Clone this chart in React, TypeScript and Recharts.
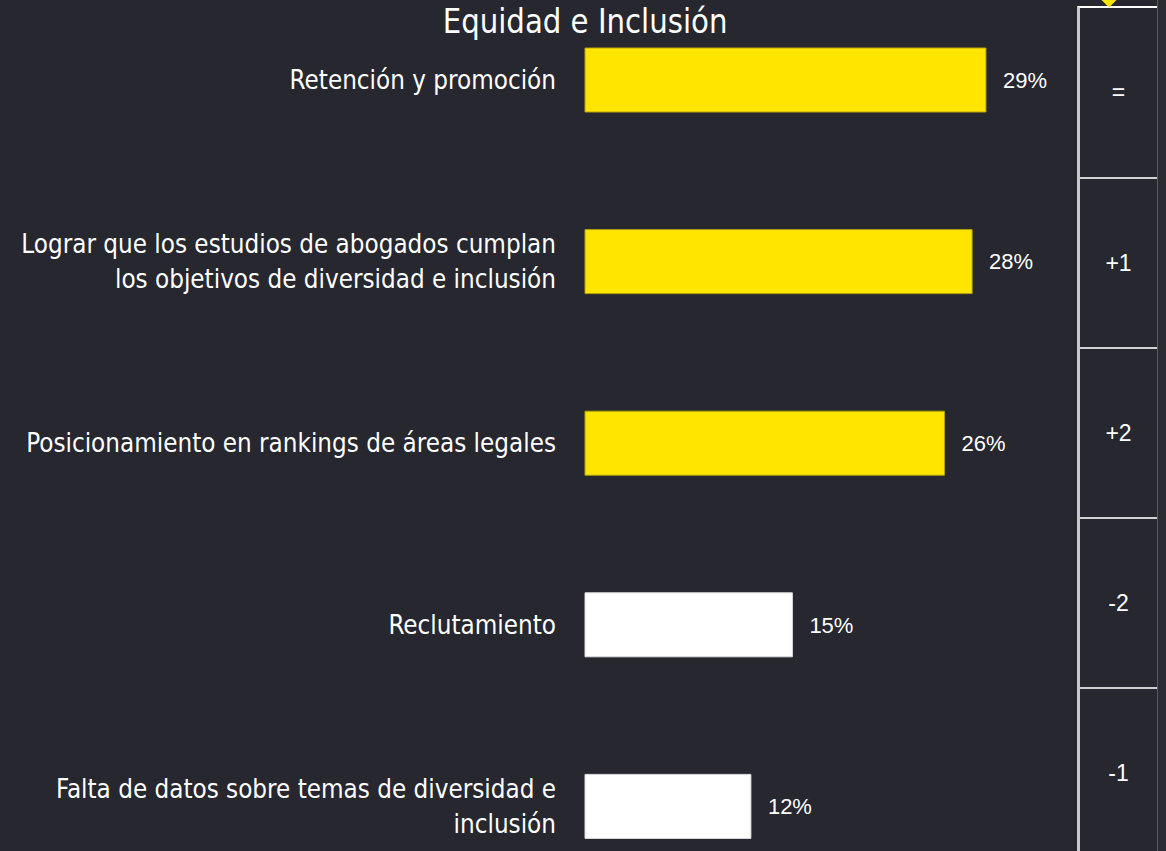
import { BarChart, Bar, XAxis, YAxis, Cell, LabelList } from 'recharts';

const categories = [
  'Retención y promoción',
  'Lograr que los estudios de abogados cumplan\nlos objetivos de diversidad e inclusión',
  'Posicionamiento en rankings de áreas legales',
  'Reclutamiento',
  'Falta de datos sobre temas de diversidad e\ninclusión',
];
const values = [29, 28, 26, 15, 12];
const changes = ['=', '+1', '+2', '-2', '-1'];
const highlighted = [true, true, true, false, false];

const data = categories.map((name, i) => ({ name, value: values[i] }));

const FONT = '"DejaVu Sans Condensed", "DejaVu Sans", sans-serif';
const NUM_FONT = '"Liberation Sans", Arial, sans-serif';
const BG = '#26272f';
const YELLOW = '#ffe600';
const SQUEEZE = 0.955;

function CategoryTick(props: any) {
  const { x, y, payload } = props;
  const lines = String(payload.value).split('\n');
  const lineHeight = 35;
  const startY = y - ((lines.length - 1) * lineHeight) / 2;
  return (
    <g transform={`translate(${x},0) scale(${SQUEEZE},1) translate(${-x},0)`}>
      <text
        x={x}
        y={startY}
        textAnchor="end"
        dominantBaseline="central"
        fill="#ffffff"
        fontFamily={FONT}
        fontSize={27}
      >
        {lines.map((line, i) => (
          <tspan key={i} x={x} y={startY + i * lineHeight}>
            {line}
          </tspan>
        ))}
      </text>
    </g>
  );
}

export default function App() {
  return (
    <div
      style={{
        position: 'absolute',
        left: 0,
        top: 0,
        width: 1166,
        height: 851,
        overflow: 'hidden',
        background: BG,
        fontFamily: FONT,
      }}
    >
      <div
        style={{
          position: 'absolute',
          left: 0,
          top: 0,
          width: 1170,
          textAlign: 'center',
          color: '#fff',
          fontSize: 34,
          lineHeight: '42px',
        }}
      >
        <span style={{ display: 'inline-block', transform: `scaleX(${SQUEEZE})` }}>
          Equidad e Inclusión
        </span>
      </div>

      <div style={{ position: 'absolute', left: 0, top: -11 }}>
        <BarChart
          width={1166}
          height={908}
          data={data}
          layout="vertical"
          margin={{ top: 0, right: 28, bottom: 0, left: 0 }}
        >
          <XAxis type="number" domain={[0, 40]} hide />
          <YAxis
            type="category"
            dataKey="name"
            width={585}
            axisLine={false}
            tickLine={false}
            tickSize={0}
            tickMargin={29}
            tick={<CategoryTick />}
            interval={0}
          />
          <Bar dataKey="value" barSize={64} isAnimationActive={false}>
            {data.map((_, i) => (
              <Cell
                key={i}
                fill={highlighted[i] ? YELLOW : '#ffffff'}
                stroke={highlighted[i] ? '#b5a30a' : '#dddddd'}
                strokeWidth={1}
              />
            ))}
            <LabelList
              dataKey="value"
              position="right"
              offset={17}
              formatter={(v: any) => `${v}%`}
              fill="#ffffff"
              fontSize={22}
              fontFamily={NUM_FONT}
            />
          </Bar>
        </BarChart>
      </div>

      {/* ranking change column */}
      <div
        style={{
          position: 'absolute',
          left: 1077,
          top: 6,
          width: 77,
          borderLeft: '3px solid #c8c8c8',
          borderRight: '2px solid #ffffff',
          borderTop: '2px solid #ffffff',
          fontFamily: NUM_FONT,
        }}
      >
        {changes.map((c, i) => (
          <div
            key={i}
            style={{
              height: i === 0 ? 169 : 168,
              borderTop: i === 0 ? 'none' : '2px solid #d0d0d0',
              display: 'flex',
              alignItems: 'center',
              justifyContent: 'center',
              color: '#fff',
              fontSize: 23,
            }}
          >
            {c}
          </div>
        ))}
      </div>
      <div
        style={{
          position: 'absolute',
          left: 1157,
          top: 0,
          width: 9,
          height: 851,
          background: '#2a2b33',
          borderLeft: '1px solid #5a5b62',
        }}
      />

      <div
        style={{
          position: 'absolute',
          left: 1103,
          top: -7,
          width: 12,
          height: 12,
          background: YELLOW,
          transform: 'rotate(45deg)',
        }}
      />
    </div>
  );
}
